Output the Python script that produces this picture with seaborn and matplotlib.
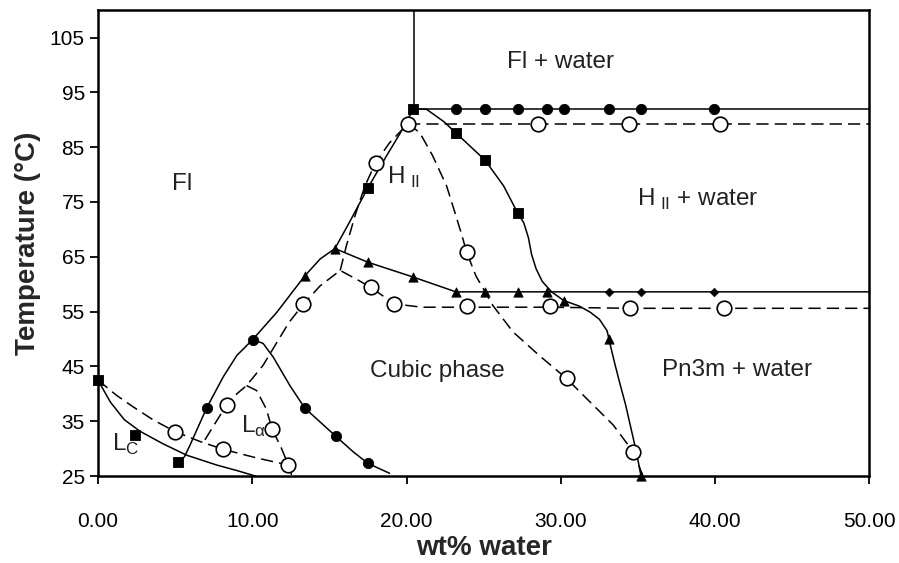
import matplotlib
matplotlib.use("Agg")
import matplotlib.pyplot as plt
import seaborn as sns
import pandas as pd

# ---- data (x = wt% water, y = temperature in C) ----

# solid boundary lines (heating)
lc_solid_x = [0.0, 0.8, 1.7, 2.7, 4.2, 5.75, 7.7, 9.0, 10.2]
lc_solid_y = [42.5, 38.5, 35.3, 33.2, 30.9, 28.8, 27.0, 26.0, 25.0]

left_solid_x = [5.2, 5.6, 5.96, 7.04, 8.12, 9.0, 10.03, 11.6, 13.4, 14.4, 15.36, 16.3, 17.5, 18.7, 19.6, 20.45]
left_solid_y = [27.5, 28.5, 30.6, 37.4, 43.1, 47.0, 49.9, 54.9, 61.5, 64.6, 66.5, 71.3, 77.6, 83.4, 87.6, 92.0]

la_solid_x = [10.03, 10.7, 11.36, 12.44, 13.4, 15.4, 16.55, 17.5, 18.9]
la_solid_y = [49.9, 49.2, 46.7, 41.5, 37.4, 32.3, 29.4, 27.3, 25.5]

cub_solid_x = [15.36, 17.5, 20.43, 23.2, 50.0]
cub_solid_y = [66.5, 64.0, 61.3, 58.6, 58.6]

hex_solid_x = [20.45, 21.3, 22.4, 23.2, 25.1, 26.3, 27.2, 27.6, 27.9, 28.1, 28.4, 28.8, 29.4,
               30.2, 31.2, 31.9, 32.5, 33.0, 33.2, 33.5, 33.8, 34.2, 34.5, 34.9, 35.2]
hex_solid_y = [92.0, 91.9, 89.7, 87.6, 82.6, 77.9, 73.0, 71.2, 68.5, 65.5, 62.8, 60.5, 58.6,
               57.0, 56.0, 54.9, 53.6, 51.5, 49.0, 45.5, 42.2, 38.0, 34.3, 29.4, 25.0]

top_solid_x = [20.45, 50.0]
top_solid_y = [92.0, 92.0]

vert_x = [20.5, 20.5]
vert_y = [92.0, 110.0]

# dashed boundary lines (cooling)
lc_dash_x = [0.0, 1.21, 2.29, 3.6, 5.0, 6.61, 8.08, 10.28, 12.34]
lc_dash_y = [42.5, 39.7, 37.6, 35.2, 33.1, 31.3, 29.9, 28.3, 27.0]

left_dash_x = [6.93, 8.34, 9.0, 9.63, 10.7, 11.6, 12.4, 13.3, 14.4, 15.7, 16.7, 17.7, 19.2, 21.0, 23.9, 29.3, 34.5, 40.6, 50.0]
left_dash_y = [31.6, 38.0, 40.0, 41.5, 45.2, 49.4, 53.1, 56.3, 59.7, 62.5, 61.0, 59.4, 56.4, 55.8, 55.8, 55.8, 55.6, 55.6, 55.6]

la_dash_x = [9.63, 10.28, 10.9, 11.3, 11.9, 12.34, 12.55]
la_dash_y = [41.5, 40.6, 37.3, 33.5, 30.0, 27.0, 25.2]

up_dash_x = [15.7, 16.1, 16.66, 17.3, 18.0, 18.9, 20.1]
up_dash_y = [62.5, 67.0, 72.5, 77.9, 82.2, 85.8, 89.3]

hex_dash_x = [20.1, 20.87, 21.7, 22.6, 23.2, 23.6, 23.9, 24.5, 25.6, 26.9, 28.6, 30.37, 31.9, 33.4, 34.7, 35.3]
hex_dash_y = [89.3, 87.6, 83.4, 77.9, 72.5, 68.8, 65.8, 61.5, 56.1, 51.3, 47.0, 42.8, 38.5, 34.3, 29.4, 25.2]

top_dash_x = [20.1, 50.0]
top_dash_y = [89.3, 89.3]

# markers
sq_x = [0.0, 2.4, 5.2, 17.5, 20.45, 23.2, 25.1, 27.2]
sq_y = [42.5, 32.5, 27.5, 77.6, 92.0, 87.6, 82.6, 73.0]

dot_x = [7.04, 10.03, 13.4, 15.4, 17.5, 23.2, 25.1, 27.2, 29.1, 30.2, 33.1, 35.2, 39.9]
dot_y = [37.4, 49.9, 37.4, 32.3, 27.3, 92.0, 92.0, 92.0, 92.0, 92.0, 92.0, 92.0, 92.0]

tri_x = [13.4, 15.36, 17.5, 20.43, 23.2, 25.1, 27.2, 29.1, 30.2, 33.1, 35.2]
tri_y = [61.5, 66.5, 64.0, 61.3, 58.6, 58.6, 58.6, 58.6, 57.0, 50.0, 25.0]

dia_x = [33.1, 35.2, 39.9]
dia_y = [58.6, 58.6, 58.6]

open_x = [5.0, 8.08, 8.34, 11.3, 12.34, 13.3, 17.7, 19.2, 18.0, 20.1, 23.9, 30.37, 34.7,
          23.9, 29.3, 34.5, 40.6, 28.5, 34.4, 40.3]
open_y = [33.1, 29.9, 38.0, 33.5, 27.0, 56.3, 59.4, 56.4, 82.2, 89.3, 65.8, 42.8, 29.4,
          56.0, 56.0, 55.6, 55.6, 89.3, 89.3, 89.3]

# region labels
labels = ["Fl", "Fl + water", "H$_{\\mathregular{\\ II}}$", "H$_{\\mathregular{\\ II}}$ + water",
          "Cubic phase", "Pn3m + water", "L$_{\\mathregular{C}}$", "L$_{\\mathregular{α}}$"]
label_x = [5.45, 30.0, 19.8, 38.9, 22.0, 41.4, 1.8, 10.1]
label_y = [78.2, 100.6, 79.5, 75.5, 44.2, 44.4, 30.8, 34.0]

x_ticks = [0, 10, 20, 30, 40, 50]
y_ticks = [25, 35, 45, 55, 65, 75, 85, 95, 105]

# ---- plot ----
sns.set_style("ticks")
plt.rcParams['font.family'] = ['Liberation Sans', 'DejaVu Sans']
plt.rcParams['mathtext.fontset'] = 'custom'
plt.rcParams['mathtext.rm'] = 'Liberation Sans'

fig = plt.figure(figsize=(8.99, 5.63), dpi=100)
ax = fig.add_axes([0.109, 0.1545, 0.858, 0.8275])


def curve(xs, ys, dashed=False):
    df = pd.DataFrame({"x": xs, "y": ys})
    ls = (0, (8, 4)) if dashed else "-"
    sns.lineplot(data=df, x="x", y="y", sort=False, estimator=None, ax=ax,
                 color="black", linewidth=1.1, linestyle=ls)


for xs, ys in [(lc_solid_x, lc_solid_y), (left_solid_x, left_solid_y), (la_solid_x, la_solid_y),
               (cub_solid_x, cub_solid_y), (hex_solid_x, hex_solid_y), (top_solid_x, top_solid_y),
               (vert_x, vert_y)]:
    curve(xs, ys)
for xs, ys in [(lc_dash_x, lc_dash_y), (left_dash_x, left_dash_y), (la_dash_x, la_dash_y),
               (up_dash_x, up_dash_y), (hex_dash_x, hex_dash_y), (top_dash_x, top_dash_y)]:
    curve(xs, ys, dashed=True)

sns.scatterplot(x=sq_x, y=sq_y, marker="s", s=60, color="black", edgecolor="black", ax=ax, zorder=3, clip_on=False)
sns.scatterplot(x=dot_x, y=dot_y, marker="o", s=55, color="black", edgecolor="black", ax=ax, zorder=3, clip_on=False)
sns.scatterplot(x=tri_x, y=tri_y, marker="^", s=45, color="black", edgecolor="black", ax=ax, zorder=3, clip_on=False)
sns.scatterplot(x=dia_x, y=dia_y, marker="D", s=20, color="black", edgecolor="black", ax=ax, zorder=3, clip_on=False)
sns.scatterplot(x=open_x, y=open_y, marker="o", s=110, color="white", edgecolor="black",
                linewidth=1.2, ax=ax, zorder=4, clip_on=False)

for t, tx, ty in zip(labels, label_x, label_y):
    ax.text(tx, ty, t, fontsize=17.5, ha="center", va="center", color="#222222")

ax.set_xlim(0, 50)
ax.set_ylim(25, 110)
ax.set_xticks(x_ticks)
ax.set_xticklabels(["%.2f" % v for v in x_ticks])
ax.set_yticks(y_ticks)
ax.tick_params(direction="out", length=6, width=1.3, labelsize=15, colors="black")
ax.tick_params(axis="x", pad=20)
for sp in ax.spines.values():
    sp.set_visible(True)
    sp.set_linewidth(1.8)
    sp.set_color("black")

ax.set_xlabel("wt% water", fontsize=20, fontweight="bold", labelpad=3)
ax.set_ylabel("Temperature (°C)", fontsize=20, fontweight="bold", labelpad=6)

plt.savefig("out.png", dpi=100)
